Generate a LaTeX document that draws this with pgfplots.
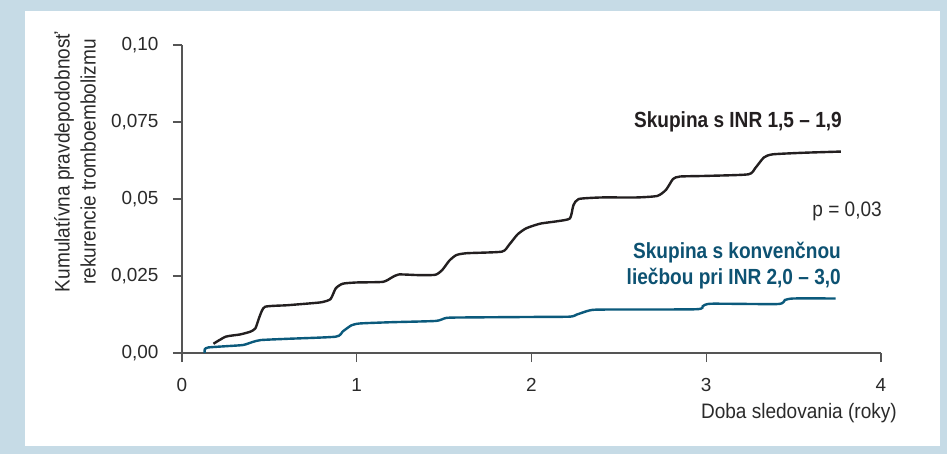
\documentclass[border=0pt]{standalone}
\usepackage{pgfplots}
\pgfplotsset{compat=1.18}
\usepackage{fontspec}
\setmainfont{Liberation Sans}[FakeStretch=0.91]
\newfontfamily\boldcond{Liberation Sans Bold}[FakeStretch=0.87]
\newfontfamily\tickfont{Liberation Sans}
\definecolor{frameblue}{HTML}{C6DBE6}
\definecolor{curveblue}{HTML}{0B5A7C}
\definecolor{labelblue}{HTML}{0D5272}
\definecolor{curveblack}{HTML}{231F20}
\definecolor{txt}{HTML}{2A2A2A}
\definecolor{axgray}{HTML}{555555}
\begin{document}
\begin{tikzpicture}
\fill[frameblue] (-182bp,-101bp) rectangle (765bp,353bp);
\fill[white] (-157bp,-93bp) rectangle (758bp,342bp);
\begin{axis}[
  at={(0,0)}, anchor=south west,
  scale only axis, width=699bp, height=308bp,
  xmin=0, xmax=4, ymin=0, ymax=0.1,
  axis lines=left, axis line style={axgray, line width=1.1bp, -},
  xtick={0,1,2,3,4}, ytick={0,0.025,0.05,0.075,0.1},
  yticklabels={{0,00},{0,025},{0,05},{0,075},{0,10}},
  xticklabels={0,1,2,3,4},
  tick align=outside, major tick length=9bp,
  tick style={axgray, line width=1.1bp},
  /pgf/number format/assume math mode=true,
  ticklabel style={font=\tickfont\fontsize{19}{21}\selectfont, text=txt},
  yticklabel style={xshift=-11bp},
  xticklabel style={yshift=-13bp},
  clip=false,
]
\addplot[curveblack, line width=2.4bp, smooth, tension=0.35] coordinates {
(0.18,0.0030) (0.25,0.0053) (0.33,0.0060) (0.39,0.0069) (0.42,0.0080)
(0.445,0.0120) (0.475,0.0150) (0.60,0.0155) (0.73,0.0161) (0.80,0.0165)
(0.85,0.0175) (0.88,0.0210) (0.92,0.0225) (1.00,0.0229) (1.15,0.0231)
(1.20,0.0245) (1.24,0.0255) (1.35,0.0253) (1.45,0.0254) (1.49,0.0270)
(1.53,0.0300) (1.57,0.0318) (1.63,0.0324) (1.83,0.0329) (1.87,0.0350)
(1.92,0.0385) (1.97,0.0405) (2.05,0.0420) (2.15,0.0428) (2.22,0.0437)
(2.24,0.0480) (2.27,0.0500) (2.40,0.0505) (2.60,0.0505) (2.72,0.0510)
(2.77,0.0530) (2.81,0.0565) (2.85,0.0573) (3.00,0.0575) (3.24,0.0580)
(3.28,0.0600) (3.33,0.0635) (3.38,0.0645) (3.55,0.0650) (3.77,0.0654)
};
\addplot[curveblue, line width=2.4bp, smooth, tension=0.35] coordinates {
(0.13,0.0000) (0.13,0.0012) (0.15,0.0018) (0.25,0.0022) (0.35,0.0026)
(0.40,0.0035) (0.45,0.0042) (0.60,0.0046) (0.88,0.0053) (0.92,0.0070)
(0.97,0.0090) (1.02,0.0096) (1.20,0.0100) (1.45,0.0104) (1.50,0.0112)
(1.55,0.0115) (2.00,0.0117) (2.22,0.0118) (2.26,0.0125) (2.33,0.0138)
(2.40,0.0141) (2.94,0.0142) (2.98,0.0152) (3.03,0.0160) (3.41,0.0159)
(3.45,0.0172) (3.50,0.0177) (3.74,0.0177)
};
\end{axis}
\node[anchor=east, inner sep=0pt, text=curveblack, font=\boldcond\fontsize{22}{24}\selectfont] at (660bp,231bp) {Skupina s INR 1,5 – 1,9};
\node[anchor=east, inner sep=0pt, text=txt, font=\fontsize{21}{24}\selectfont] at (700bp,142bp) {p = 0,03};
\node[anchor=east, inner sep=0pt, align=right, text=labelblue, font=\boldcond\fontsize{22}{26}\selectfont] at (659bp,87bp) {Skupina s konvenčnou\\liečbou pri INR 2,0 – 3,0};
\node[anchor=east, inner sep=0pt, text=txt, font=\fontsize{21}{24}\selectfont] at (715bp,-60bp) {Doba sledovania (roky)};
\node[rotate=90, inner sep=0pt, align=center, text=txt, font=\fontsize{21}{26}\selectfont] at (-107bp,191bp) {Kumulatívna pravdepodobnosť\\rekurencie tromboembolizmu};
\end{tikzpicture}
\end{document}
